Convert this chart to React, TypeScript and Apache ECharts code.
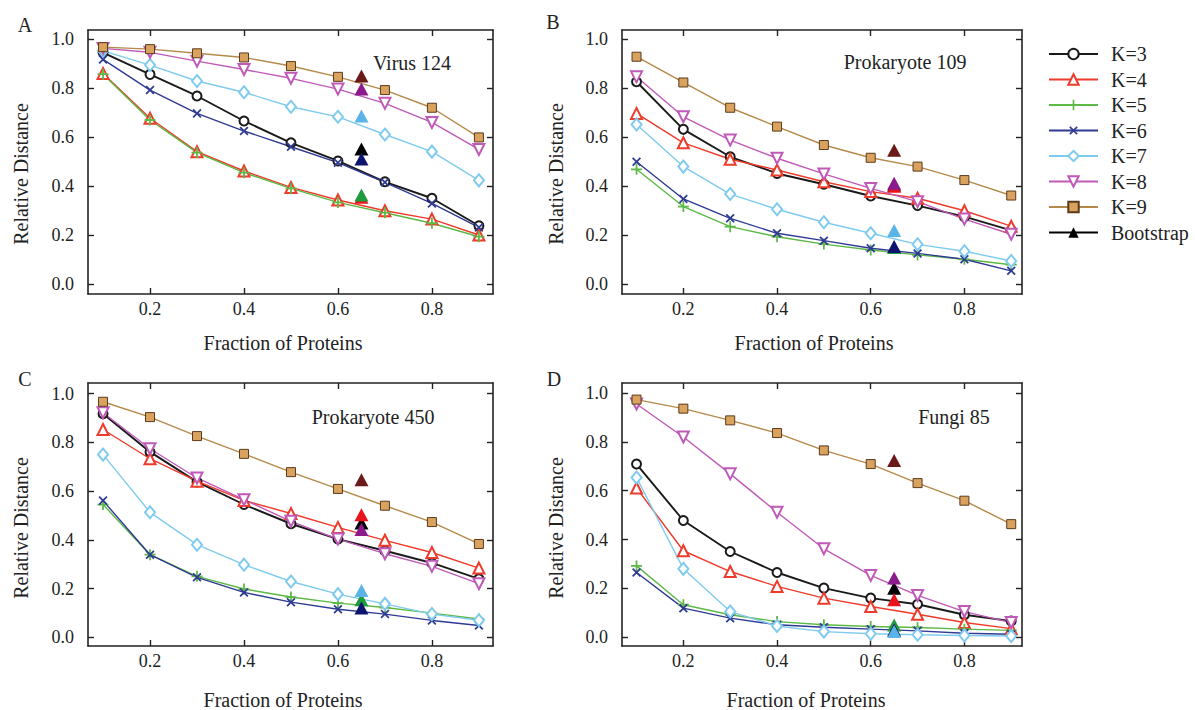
import React, { useEffect, useRef } from "react";
import * as echarts from "echarts";

const X_VALUES = [0.1, 0.2, 0.3, 0.4, 0.5, 0.6, 0.7, 0.8, 0.9];
const BOOT_X = 0.65;
const K_NAMES = ["K=3", "K=4", "K=5", "K=6", "K=7", "K=8", "K=9"];
const X_TICKS = [0.2, 0.4, 0.6, 0.8];
const Y_TICKS = [0, 0.2, 0.4, 0.6, 0.8, 1.0];
const PANEL_TITLES = ["Virus 124", "Prokaryote 109", "Prokaryote 450", "Fungi 85"];
const PANEL_LETTERS = ["A", "B", "C", "D"];

// Panel A: Virus 124
const A_K3 = [0.945, 0.856, 0.768, 0.666, 0.577, 0.503, 0.418, 0.351, 0.239];
const A_K4 = [0.86, 0.677, 0.541, 0.462, 0.395, 0.344, 0.3, 0.266, 0.201];
const A_K5 = [0.857, 0.67, 0.537, 0.455, 0.391, 0.334, 0.292, 0.249, 0.194];
const A_K6 = [0.917, 0.792, 0.697, 0.625, 0.561, 0.496, 0.416, 0.33, 0.232];
const A_K7 = [0.952, 0.894, 0.829, 0.783, 0.724, 0.683, 0.611, 0.541, 0.424];
const A_K8 = [0.962, 0.946, 0.91, 0.876, 0.84, 0.796, 0.738, 0.66, 0.55];
const A_K9 = [0.967, 0.959, 0.942, 0.925, 0.89, 0.846, 0.792, 0.72, 0.599];
const A_BOOT = [0.552, 0.355, 0.364, 0.511, 0.686, 0.796, 0.849];

// Panel B: Prokaryote 109
const B_K3 = [0.826, 0.632, 0.52, 0.452, 0.408, 0.36, 0.321, 0.276, 0.22];
const B_K4 = [0.697, 0.577, 0.51, 0.466, 0.418, 0.378, 0.351, 0.3, 0.237];
const B_K5 = [0.469, 0.317, 0.235, 0.194, 0.164, 0.14, 0.12, 0.102, 0.08];
const B_K6 = [0.5, 0.348, 0.269, 0.208, 0.178, 0.147, 0.126, 0.102, 0.055];
const B_K7 = [0.652, 0.48, 0.368, 0.306, 0.253, 0.208, 0.163, 0.135, 0.095];
const B_K8 = [0.846, 0.683, 0.588, 0.514, 0.45, 0.391, 0.337, 0.266, 0.204];
const B_K9 = [0.928, 0.823, 0.72, 0.643, 0.568, 0.516, 0.48, 0.425, 0.362];
const B_BOOT = [0.405, 0.4, 0.15, 0.154, 0.219, 0.412, 0.547];

// Panel C: Prokaryote 450
const C_K3 = [0.918, 0.761, 0.638, 0.545, 0.466, 0.403, 0.355, 0.305, 0.24];
const C_K4 = [0.853, 0.733, 0.641, 0.562, 0.508, 0.451, 0.398, 0.348, 0.284];
const C_K5 = [0.545, 0.339, 0.25, 0.198, 0.165, 0.14, 0.122, 0.099, 0.075];
const C_K6 = [0.561, 0.339, 0.246, 0.184, 0.144, 0.115, 0.095, 0.069, 0.048];
const C_K7 = [0.75, 0.513, 0.38, 0.298, 0.229, 0.177, 0.137, 0.095, 0.07];
const C_K8 = [0.922, 0.774, 0.654, 0.565, 0.476, 0.403, 0.343, 0.291, 0.22];
const C_K9 = [0.967, 0.904, 0.826, 0.753, 0.678, 0.609, 0.54, 0.473, 0.383];
const C_BOOT = [0.469, 0.503, 0.154, 0.12, 0.192, 0.442, 0.647];

// Panel D: Fungi 85
const D_K3 = [0.709, 0.478, 0.351, 0.265, 0.201, 0.16, 0.135, 0.092, 0.066];
const D_K4 = [0.611, 0.354, 0.269, 0.208, 0.16, 0.126, 0.094, 0.06, 0.035];
const D_K5 = [0.292, 0.133, 0.092, 0.064, 0.051, 0.044, 0.04, 0.033, 0.028];
const D_K6 = [0.265, 0.119, 0.078, 0.051, 0.041, 0.033, 0.026, 0.016, 0.012];
const D_K7 = [0.654, 0.28, 0.105, 0.046, 0.023, 0.014, 0.01, 0.007, 0.005];
const D_K8 = [0.955, 0.82, 0.669, 0.512, 0.362, 0.253, 0.171, 0.105, 0.06];
const D_K9 = [0.973, 0.936, 0.888, 0.836, 0.765, 0.709, 0.631, 0.559, 0.463];
const D_BOOT = [0.2, 0.153, 0.05, 0.03, 0.023, 0.242, 0.724];

const PANELS = [
  [A_K3, A_K4, A_K5, A_K6, A_K7, A_K8, A_K9],
  [B_K3, B_K4, B_K5, B_K6, B_K7, B_K8, B_K9],
  [C_K3, C_K4, C_K5, C_K6, C_K7, C_K8, C_K9],
  [D_K3, D_K4, D_K5, D_K6, D_K7, D_K8, D_K9],
];
const BOOTS = [A_BOOT, B_BOOT, C_BOOT, D_BOOT];

const FONT = "'Liberation Serif', 'Times New Roman', serif";
const TEXT = "#222";

const LINE_COLORS = ["#1a1a1a", "#ee3b2b", "#5cb946", "#2e3a94", "#7fcbef", "#c05ab9", "#b5894a"];
const BOOT_COLORS = ["#000000", "#e8141b", "#1f9a3c", "#0d1470", "#5ab4e6", "#8c1a8c", "#6b1a1a"];
const PLUS = "path://M4.2,0H5.8V4.2H10V5.8H5.8V10H4.2V5.8H0V4.2H4.2Z";

const SYMBOLS: any[] = [
  { symbol: "emptyCircle", symbolSize: 9, symbolRotate: 0 },
  { symbol: "emptyTriangle", symbolSize: 11, symbolRotate: 0 },
  { symbol: PLUS, symbolSize: 11, symbolRotate: 0 },
  { symbol: PLUS, symbolSize: 11, symbolRotate: 45 },
  { symbol: "emptyDiamond", symbolSize: [10, 12], symbolRotate: 0 },
  { symbol: "emptyTriangle", symbolSize: 11, symbolRotate: 180 },
  { symbol: "rect", symbolSize: 9, symbolRotate: 0 },
];

const GRIDS = [
  { left: 88, top: 30, width: 405, height: 264, xmin: 0.068, xmax: 0.93, ymin: -0.0395, ymax: 1.037 },
  { left: 622, top: 30, width: 400, height: 264, xmin: 0.069, xmax: 0.923, ymin: -0.0395, ymax: 1.037 },
  { left: 88, top: 383, width: 405, height: 263, xmin: 0.068, xmax: 0.93, ymin: -0.036, ymax: 1.044 },
  { left: 622, top: 383, width: 400, height: 263, xmin: 0.069, xmax: 0.923, ymin: -0.036, ymax: 1.041 },
];

const TITLE_POS = [[412, 63], [905, 62], [373, 417], [954, 417]];
const LETTER_POS = [[25, 25], [553, 22], [25, 379], [554, 379]];
const YNAME_POS = [[21, 174], [556, 174], [21, 528], [556, 528]];
const XNAME_POS = [[283, 343], [814, 343], [283, 700], [806, 700]];

function App() {
  const ref = useRef<HTMLDivElement>(null);
  useEffect(() => {
    const chart = echarts.init(ref.current!, null, { renderer: "svg" });
    const axisLine = { show: true, onZero: false, lineStyle: { color: TEXT, width: 1.6 } };
    const tickStyle = { color: TEXT, width: 1.4 };
    const grid: any[] = [];
    const xAxis: any[] = [];
    const yAxis: any[] = [];
    const series: any[] = [];
    const graphic: any[] = [];

    GRIDS.forEach((g, p) => {
      grid.push({ left: g.left, top: g.top, width: g.width, height: g.height });
      const xBase = {
        type: "value", gridIndex: p, min: g.xmin, max: g.xmax,
        axisLine, splitLine: { show: false },
        axisTick: { show: true, inside: true, length: 6, customValues: X_TICKS, lineStyle: tickStyle },
      };
      xAxis.push({
        ...xBase, position: "bottom",
        axisLabel: {
          show: true, customValues: X_TICKS, formatter: (v: number) => v.toFixed(1),
          fontSize: 18, fontFamily: FONT, color: TEXT, margin: 6,
        },
      });
      xAxis.push({ ...xBase, position: "top", axisLabel: { show: false } });
      const yBase = {
        type: "value", gridIndex: p, min: g.ymin, max: g.ymax,
        axisLine, splitLine: { show: false },
        axisTick: { show: true, inside: true, length: 6, customValues: Y_TICKS, lineStyle: tickStyle },
      };
      yAxis.push({
        ...yBase, position: "left",
        axisLabel: {
          show: true, customValues: Y_TICKS, formatter: (v: number) => v.toFixed(1),
          fontSize: 18, fontFamily: FONT, color: TEXT, margin: 14,
        },
      });
      yAxis.push({ ...yBase, position: "right", axisLabel: { show: false } });

      PANELS[p].forEach((vals, k) => {
        const s = SYMBOLS[k];
        const isPath = k === 2 || k === 3;
        const isRect = k === 6;
        series.push({
          name: K_NAMES[k], type: "line", xAxisIndex: 2 * p, yAxisIndex: 2 * p,
          data: X_VALUES.map((x, i) => [x, vals[i]]),
          symbol: s.symbol, symbolSize: s.symbolSize, symbolRotate: s.symbolRotate,
          showAllSymbol: true,
          lineStyle: { color: LINE_COLORS[k], width: k === 0 ? 1.9 : 1.4 },
          itemStyle: isRect
            ? { color: "#d9a35f", borderColor: "#5a3a1a", borderWidth: 1 }
            : isPath
            ? { color: LINE_COLORS[k], borderWidth: 0 }
            : { color: LINE_COLORS[k], borderWidth: 1.5 },
          emphasis: { disabled: true },
          z: 2,
        });
      });
      series.push({
        name: "Bootstrap", type: "line", xAxisIndex: 2 * p, yAxisIndex: 2 * p,
        data: BOOTS[p].map((v, i) => ({ value: [BOOT_X, v], itemStyle: { color: BOOT_COLORS[i] } })),
        symbol: "triangle", symbolSize: [14, 13], showAllSymbol: true,
        lineStyle: { opacity: 0, width: 0 },
        itemStyle: { color: "#000" },
        emphasis: { disabled: true },
        z: 5,
      });

      graphic.push({
        type: "text", x: TITLE_POS[p][0], y: TITLE_POS[p][1],
        style: { text: PANEL_TITLES[p], fontSize: 20, fontFamily: FONT, fill: TEXT, align: "center", verticalAlign: "middle" },
      });
      graphic.push({
        type: "text", x: LETTER_POS[p][0], y: LETTER_POS[p][1],
        style: { text: PANEL_LETTERS[p], fontSize: 20, fontFamily: FONT, fill: TEXT, align: "center", verticalAlign: "middle" },
      });
      graphic.push({
        type: "text", x: YNAME_POS[p][0], y: YNAME_POS[p][1], rotation: Math.PI / 2,
        style: { text: "Relative Distance", fontSize: 20, fontFamily: FONT, fill: TEXT, align: "center", verticalAlign: "middle" },
      });
      graphic.push({
        type: "text", x: XNAME_POS[p][0], y: XNAME_POS[p][1],
        style: { text: "Fraction of Proteins", fontSize: 20, fontFamily: FONT, fill: TEXT, align: "center", verticalAlign: "middle" },
      });
    });

    chart.setOption({
      animation: false,
      backgroundColor: "#fff",
      grid, xAxis, yAxis, series, graphic,
      legend: {
        orient: "vertical", left: 1048, top: 44, padding: 0,
        itemWidth: 49, itemHeight: 13, itemGap: 5.5,
        selectedMode: false,
        textStyle: { fontSize: 20, fontFamily: FONT, color: TEXT, lineHeight: 20, padding: [0, 0, 0, 8] },
        data: [
          ...K_NAMES,
          { name: "Bootstrap", itemStyle: { color: "#000" }, lineStyle: { color: "#000", width: 2, opacity: 1 } },
        ],
      },
    });
    return () => chart.dispose();
  }, []);
  return <div ref={ref} style={{ position: "absolute", left: 0, top: 0, width: 1195, height: 710 }} />;
}

export default App;
